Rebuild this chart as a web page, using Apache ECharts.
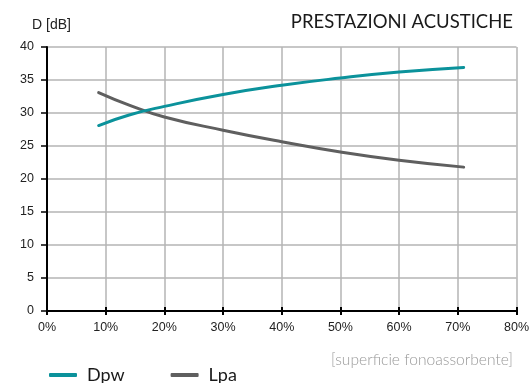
<!DOCTYPE html>
<html>
<head>
<meta charset="utf-8">
<script src="https://cdn.jsdelivr.net/npm/echarts@6/dist/echarts.min.js"></script>
<style>
  html, body { margin: 0; padding: 0; background: #fff; }
  #chart { width: 532px; height: 383px; }
</style>
</head>
<body>
<div id="chart"></div>
<script>
// Sound absorbing surface share (%) and measured values (dB)
const coverage = [8.8, 14, 20, 30, 40, 50, 60, 71];
const dpw = [28.1, 29.7, 31.0, 32.8, 34.2, 35.3, 36.2, 36.9];
const lpa = [33.1, 31.2, 29.4, 27.4, 25.65, 24.1, 22.85, 21.8];
const xTicks = [0, 10, 20, 30, 40, 50, 60, 70, 80];
const yTicks = [0, 5, 10, 15, 20, 25, 30, 35, 40];

const pairs = (xs, ys) => xs.map((x, i) => [x, ys[i]]);

const chart = echarts.init(document.getElementById('chart'), null, { renderer: 'canvas' });

const gridColor = '#b4b4b4';
const axisFont = { fontFamily: 'Liberation Sans', fontSize: 12.5, color: '#222' };

chart.setOption({
  animation: false,
  backgroundColor: '#fff',
  title: [
    {
      text: 'PRESTAZIONI ACUSTICHE',
      right: 14, top: 8,
      textStyle: { fontFamily: 'Lato', fontSize: 18.5, fontWeight: 'normal', color: '#1a1a1a' }
    },
    {
      text: 'D [dB]',
      left: 27, top: 13,
      textStyle: { fontFamily: 'Liberation Sans', fontSize: 14, fontWeight: 'normal', color: '#222' }
    },
    {
      text: '[superficie fonoassorbente]',
      right: 14, top: 347,
      textStyle: { fontFamily: 'Lato', fontSize: 15.6, fontWeight: 300, color: '#999' }
    }
  ],
  legend: {
    left: 44, top: 361,
    icon: 'roundRect',
    itemWidth: 28, itemHeight: 4,
    itemGap: 46,
    textStyle: { fontFamily: 'Lato', fontSize: 18, color: '#1a1a1a', padding: [0, 0, 0, 5] },
    data: ['Dpw', 'Lpa']
  },
  grid: { left: 47, right: 15, top: 47, bottom: 72, containLabel: false },
  xAxis: [
    {
      type: 'value', min: 0, max: 80, interval: 10,
      axisLine: { show: true, lineStyle: { color: '#000', width: 2 } },
      axisTick: { show: true, length: 4, lineStyle: { color: '#000', width: 2 } },
      axisLabel: Object.assign({ margin: 10, formatter: v => xTicks.includes(v) ? v + '%' : '' }, axisFont),
      splitLine: { show: true, lineStyle: { color: gridColor, width: 1.5 } }
    },
    {
      // upper half of the crossing ticks on the bottom axis
      type: 'value', min: 0, max: 80, interval: 10,
      position: 'top', offset: -264,
      axisLine: { show: false },
      axisTick: { show: true, length: 4, lineStyle: { color: '#000', width: 2 } },
      axisLabel: { show: false },
      splitLine: { show: false }
    }
  ],
  yAxis: {
    type: 'value', min: 0, max: 40, interval: 5,
    axisLine: { show: true, lineStyle: { color: '#000', width: 2 } },
    axisTick: { show: true, length: 6, lineStyle: { color: '#000', width: 1.5 } },
    axisLabel: Object.assign({ margin: 13, formatter: v => yTicks.includes(v) ? String(v) : '' }, axisFont),
    splitLine: { show: true, lineStyle: { color: gridColor, width: 1.5 } }
  },
  series: [
    {
      name: 'Dpw', type: 'line', smooth: 0.5, showSymbol: false,
      data: pairs(coverage, dpw),
      itemStyle: { color: '#0b929b' },
      lineStyle: { color: '#0b929b', width: 3, cap: 'round' },
      z: 3
    },
    {
      name: 'Lpa', type: 'line', smooth: 0.5, showSymbol: false,
      data: pairs(coverage, lpa),
      itemStyle: { color: '#5f5f5f' },
      lineStyle: { color: '#5f5f5f', width: 3, cap: 'round' },
      z: 2
    }
  ]
});
</script>
</body>
</html>
